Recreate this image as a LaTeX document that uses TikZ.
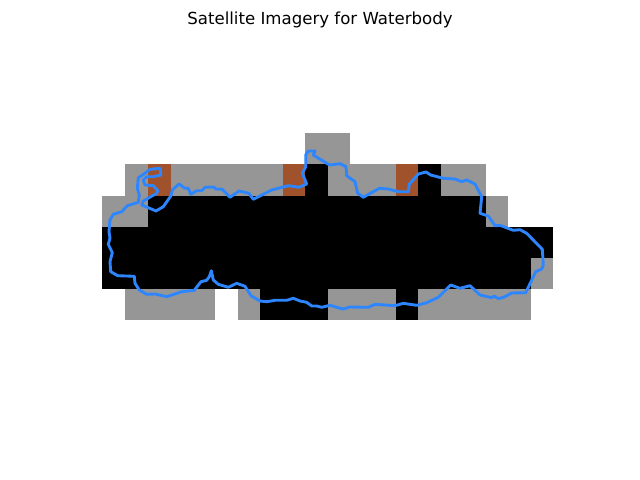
\documentclass[tikz,border=0pt]{standalone}
\usepackage{fontspec}
\setmainfont{DejaVu Sans}

\begin{document}
\begin{tikzpicture}[
    x=0.025cm,
    y=-0.025cm,
    bare/.style={fill={rgb,255:red,150;green,150;blue,150}},
    soil/.style={fill={rgb,255:red,160;green,82;blue,45}},
    water/.style={fill=black},
    outline/.style={
        draw={rgb,255:red,46;green,134;blue,255},
        line width=2.05pt,
        line join=round
    },
    heading/.style={
        font=\fontsize{11.8pt}{14pt}\selectfont,
        anchor=base
    }
]

\useasboundingbox (0,0) rectangle (640,480);

\node[heading] (title) at (320,24) {Satellite Imagery for Waterbody};

% class raster
\foreach \xa/\ya/\xb/\yb in {305/133/350/164, 125/164/148/196, 170/164/283/196, 328/164/396/196,
    441/164/486/196, 102/196/148/227, 486/196/508/227, 531/258/553/289,
    125/289/215/320, 238/289/260/320, 328/289/396/320, 418/289/531/320}
    \fill[bare] (\xa,\ya) rectangle (\xb,\yb);
\foreach \xa in {148, 283, 396}
    \fill[soil] (\xa,164) rectangle (\xa+22.5,196);
\foreach \xa/\ya/\xb/\yb in {305/164/328/196, 418/164/441/196, 148/196/486/227, 102/227/553/258,
    102/258/531/289, 260/289/328/320, 396/289/418/320}
    \fill[water] (\xa,\ya) rectangle (\xb,\yb);

% waterbody boundary
\draw[outline] (160,168.3) -- (161,175) -- (153.3,176.7) -- (146.7,176.7) -- (143.3,180) -- (145,185)
    -- (153.3,185.7) -- (157.7,190.7) -- (156.7,193.3) -- (143.3,201) -- (141.7,205) -- (148.3,207.7)
    -- (156,211) -- (163.3,206.7) -- (171,195.7) -- (172.3,190) -- (179,184) -- (185,188.3)
    -- (188.3,188.3) -- (190.7,194.3) -- (196.7,190.7) -- (201.7,190.7) -- (205,187.3) -- (214,187)
    -- (215.7,189) -- (222.3,189.3) -- (230,197.3) -- (239,191) -- (249,193.3) -- (253.3,199.3)
    -- (271.7,190) -- (288.3,185.7) -- (299,187.3) -- (306.7,184) -- (302.3,173.3) -- (305.7,166.7)
    -- (305.7,155) -- (308.3,151) -- (315,151) -- (313.3,155) -- (328.3,164.3) -- (330,165)
    -- (340,163.7) -- (346,166.7) -- (346.7,175.7) -- (355,181.7) -- (357.7,193.3) -- (363.3,197.3)
    -- (379.3,188.3) -- (388.3,189) -- (398.3,191.7) -- (408.3,191.7) -- (409.3,184.3) -- (418.3,174)
    -- (426,172) -- (430.7,175) -- (443.3,178.3) -- (455,179) -- (461.7,181.7) -- (466.7,180)
    -- (475,184) -- (481.7,196.7) -- (480,213.3) -- (488.3,216) -- (495,225.7) -- (500,225.3)
    -- (513.3,230.3) -- (520,229.7) -- (526.7,233.3) -- (542.3,249.3) -- (543.3,265) -- (541.7,269)
    -- (535.7,271.7) -- (525.7,292.7) -- (511.7,293) -- (505,296.7) -- (498.3,298.7) -- (494.3,296)
    -- (491.7,297.7) -- (480,295) -- (470,285.7) -- (460,288.3) -- (450.7,285) -- (438.3,297.3)
    -- (426.7,302.7) -- (416.7,305.3) -- (403.3,303.3) -- (395,305.7) -- (375,304.3) -- (368.3,307.3)
    -- (350,307) -- (342.7,309) -- (330,305.3) -- (321.7,307.3) -- (316.7,306) -- (311.7,306)
    -- (306.7,302.3) -- (300,301) -- (293.3,298.3) -- (286.7,300.3) -- (275,300.3) -- (266.7,301.7)
    -- (260,301) -- (251,295.7) -- (245,286.3) -- (236.7,283.3) -- (228.3,287.3) -- (218.3,284.3)
    -- (213.3,280) -- (211.3,270.7) -- (209.3,276.7) -- (206.7,280.3) -- (201,281.7) -- (194.3,290.3)
    -- (181.7,291.7) -- (166.7,296.7) -- (155,294) -- (146.7,294.3) -- (139.3,290) -- (135,283.3)
    -- (134.3,276.3) -- (117.7,275.7) -- (110.7,271.7) -- (110,261.7) -- (112.3,252.7) -- (108.3,244.3)
    -- (110,238.3) -- (109,231.7) -- (110,220) -- (113.3,214.3) -- (121.7,211.7) -- (127.3,205.7)
    -- (138.3,202.3) -- (139.3,195) -- (137.3,188.3) -- (138.3,177.7) -- (145,173.3) -- (150,169.3)
    -- cycle;

\end{tikzpicture}
\end{document}
